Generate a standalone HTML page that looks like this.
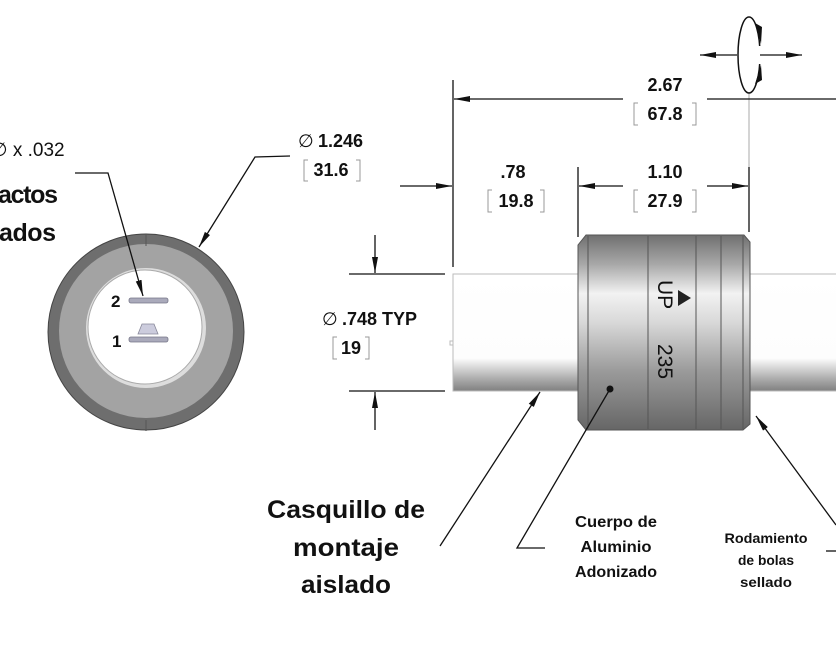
<!DOCTYPE html>
<html><head><meta charset="utf-8"><style>
html,body{margin:0;padding:0;background:#fff;}
svg{display:block;}
text{font-family:"Liberation Sans",sans-serif;fill:#111;}
.b{font-weight:bold;}
</style></head><body>
<svg width="836" height="646" viewBox="0 0 836 646" xmlns="http://www.w3.org/2000/svg">
<defs>
<marker id="ar" viewBox="0 0 16 8" refX="16" refY="4" markerWidth="16" markerHeight="8" orient="auto-start-reverse" markerUnits="userSpaceOnUse"><path d="M0,1 L16,4 L0,7 z" fill="#111"/></marker>
<linearGradient id="bod" x1="0" y1="0" x2="0" y2="1">
<stop offset="0" stop-color="#707070"/><stop offset="0.15" stop-color="#a8a8a8"/><stop offset="0.3" stop-color="#f2f2f2"/><stop offset="0.45" stop-color="#d8d8d8"/><stop offset="0.7" stop-color="#9a9a9a"/><stop offset="1" stop-color="#666"/></linearGradient>
<linearGradient id="sh" x1="0" y1="0" x2="0" y2="1">
<stop offset="0" stop-color="#fff"/><stop offset="0.72" stop-color="#fdfdfd"/><stop offset="0.8" stop-color="#d8d8d8"/><stop offset="0.9" stop-color="#aaa"/><stop offset="1" stop-color="#808080"/></linearGradient>
</defs>

<!-- Left ring -->
<circle cx="146" cy="332" r="98" fill="#6e6e6e" stroke="#444" stroke-width="1"/>
<circle cx="146" cy="331" r="87" fill="#a3a3a3"/>
<circle cx="146" cy="328" r="60" fill="#ddd"/>
<circle cx="145" cy="327" r="57" fill="#fff" stroke="#aaa" stroke-width="1"/>
<line x1="146" y1="234" x2="146" y2="246" stroke="#555"/>
<line x1="146" y1="420" x2="146" y2="431" stroke="#555"/>
<rect x="129" y="298" width="39" height="5" rx="2" fill="#aab" stroke="#778" stroke-width="0.8"/>
<path d="M138,334 L142,324 L154,324 L158,334 Z" fill="#ccd" stroke="#889" stroke-width="0.8"/>
<rect x="129" y="337" width="39" height="5" rx="2" fill="#aab" stroke="#778" stroke-width="0.8"/>
<text x="111" y="307" font-size="17" class="b">2</text>
<text x="112" y="347" font-size="17" class="b">1</text>

<text x="-9" y="156" font-size="19">∅ x .032</text>
<text x="-2" y="203" font-size="25" class="b" textLength="60">actos</text>
<text x="-1" y="241" font-size="25" class="b" textLength="57">ados</text>
<polyline points="75,173 108,173 143,296" fill="none" stroke="#111" stroke-width="1.3" marker-end="url(#ar)"/>

<text x="298" y="147" font-size="18">∅</text>
<text x="318" y="147" font-size="18" class="b">1.246</text>
<text x="331" y="176" font-size="18" class="b" text-anchor="middle">31.6</text>
<path d="M308,160 h-4 v21 h4 M356,160 h4 v21 h-4" fill="none" stroke="#999" stroke-width="1"/>
<polyline points="290,156 255,157 199,247" fill="none" stroke="#111" stroke-width="1.3" marker-end="url(#ar)"/>

<!-- Shaft -->
<rect x="453" y="274" width="390" height="117" fill="url(#sh)" stroke="#bbb" stroke-width="1"/>
<rect x="450" y="341" width="3" height="4" fill="none" stroke="#bbb"/>
<!-- Body -->
<path d="M586,235 L744,235 L750,242 L750,424 L743,430 L586,430 L578,420 L578,245 Z" fill="url(#bod)" stroke="#555" stroke-width="1"/>
<g stroke="#555" stroke-width="1">
<line x1="588" y1="236" x2="588" y2="429"/>
<line x1="648" y1="236" x2="648" y2="429"/>
<line x1="696" y1="236" x2="696" y2="429"/>
<line x1="721" y1="236" x2="721" y2="429"/>
<line x1="743" y1="236" x2="743" y2="429"/>
</g>
<text font-size="21" transform="translate(658,280) rotate(90)">UP</text>
<path d="M678,290 L691,298 L678,306 Z" fill="#222"/>
<text font-size="21" transform="translate(658,344) rotate(90)">235</text>
<circle cx="610" cy="389" r="3.5" fill="#111"/>

<!-- extension lines -->
<g stroke="#111" stroke-width="1.3">
<line x1="453" y1="80" x2="453" y2="267"/>
<line x1="578" y1="167" x2="578" y2="237"/>
<line x1="749" y1="167" x2="749" y2="232"/>
<line x1="349" y1="274" x2="445" y2="274"/>
<line x1="349" y1="391" x2="445" y2="391"/>
</g>
<line x1="749" y1="93" x2="749" y2="167" stroke="#aaa" stroke-width="1"/>

<!-- dims -->
<line x1="623" y1="99" x2="454" y2="99" stroke="#111" stroke-width="1.3" marker-end="url(#ar)"/>
<line x1="707" y1="99" x2="836" y2="99" stroke="#111" stroke-width="1.3"/>
<text x="665" y="91" font-size="18" class="b" text-anchor="middle">2.67</text>
<text x="665" y="120" font-size="18" class="b" text-anchor="middle">67.8</text>
<path d="M638,103 h-4 v22 h4 M692,103 h4 v22 h-4" fill="none" stroke="#999"/>

<line x1="400" y1="186" x2="452" y2="186" stroke="#111" stroke-width="1.3" marker-end="url(#ar)"/>
<text x="513" y="178" font-size="18" class="b" text-anchor="middle">.78</text>
<text x="516" y="207" font-size="18" class="b" text-anchor="middle">19.8</text>
<path d="M492,190 h-4 v22 h4 M540,190 h4 v22 h-4" fill="none" stroke="#999"/>

<line x1="623" y1="186" x2="579" y2="186" stroke="#111" stroke-width="1.3" marker-end="url(#ar)"/>
<line x1="707" y1="186" x2="748" y2="186" stroke="#111" stroke-width="1.3" marker-end="url(#ar)"/>
<text x="665" y="178" font-size="18" class="b" text-anchor="middle">1.10</text>
<text x="665" y="207" font-size="18" class="b" text-anchor="middle">27.9</text>
<path d="M638,190 h-4 v22 h4 M692,190 h4 v22 h-4" fill="none" stroke="#999"/>

<line x1="375" y1="235" x2="375" y2="273" stroke="#111" stroke-width="1.3" marker-end="url(#ar)"/>
<line x1="375" y1="430" x2="375" y2="392" stroke="#111" stroke-width="1.3" marker-end="url(#ar)"/>
<text x="322" y="325" font-size="18">∅</text>
<text x="342" y="325" font-size="18" class="b">.748 TYP</text>
<text x="351" y="354" font-size="18" class="b" text-anchor="middle">19</text>
<path d="M337,337 h-4 v22 h4 M365,337 h4 v22 h-4" fill="none" stroke="#999"/>

<!-- rotation symbol -->
<ellipse cx="749" cy="55" rx="11" ry="38" fill="none" stroke="#111" stroke-width="1.5"/>
<rect x="755" y="46" width="12" height="18" fill="#fff"/>
<line x1="737" y1="55" x2="700" y2="55" stroke="#111" stroke-width="1.3" marker-end="url(#ar)"/>
<line x1="760" y1="55" x2="802" y2="55" stroke="#111" stroke-width="1.3" marker-end="url(#ar)"/>
<path d="M755,23 L762,27 L761,44 Z" fill="#111"/>
<path d="M755,84 L762,80 L761,65 Z" fill="#111"/>

<!-- bottom leaders -->
<line x1="440" y1="546" x2="540" y2="392" stroke="#111" stroke-width="1.3" marker-end="url(#ar)"/>
<polyline points="545,548 517,548 610,389" fill="none" stroke="#111" stroke-width="1.3"/>
<line x1="836" y1="525" x2="756" y2="416" stroke="#111" stroke-width="1.3" marker-end="url(#ar)"/>
<line x1="826" y1="551" x2="836" y2="551" stroke="#111" stroke-width="1.3"/>

<g class="b" text-anchor="middle">
<text x="346" y="518" font-size="25" textLength="158" lengthAdjust="spacingAndGlyphs">Casquillo de</text>
<text x="346" y="556" font-size="25" textLength="106" lengthAdjust="spacingAndGlyphs">montaje</text>
<text x="346" y="593" font-size="25" textLength="90" lengthAdjust="spacingAndGlyphs">aislado</text>
<text x="616" y="527" font-size="16" textLength="82" lengthAdjust="spacingAndGlyphs">Cuerpo de</text>
<text x="616" y="552" font-size="16" textLength="71" lengthAdjust="spacingAndGlyphs">Aluminio</text>
<text x="616" y="577" font-size="16" textLength="82" lengthAdjust="spacingAndGlyphs">Adonizado</text>
<text x="766" y="543" font-size="14" textLength="83" lengthAdjust="spacingAndGlyphs">Rodamiento</text>
<text x="766" y="565" font-size="14" textLength="56" lengthAdjust="spacingAndGlyphs">de bolas</text>
<text x="766" y="587" font-size="14" textLength="52" lengthAdjust="spacingAndGlyphs">sellado</text>
</g>
</svg>
</body></html>
